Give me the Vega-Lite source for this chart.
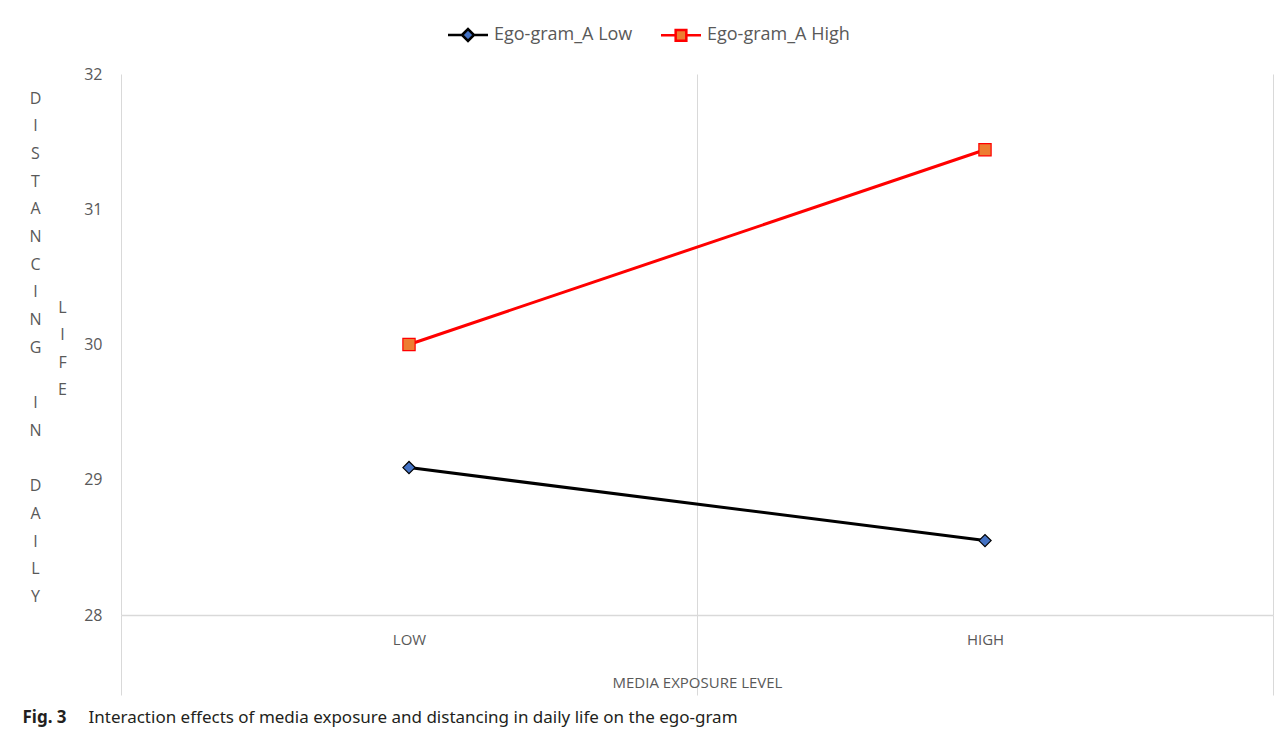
{
  "$schema": "https://vega.github.io/schema/vega-lite/v6.json",
  "autosize": "none",
  "padding": {"left": 121, "top": 74, "right": 9, "bottom": 121},
  "width": 1152,
  "height": 541,
  "background": "white",
  "config": {
    "view": {"stroke": null},
    "font": "Open Sans",
    "axis": {"labelFont": "Open Sans", "titleFont": "Open Sans"}
  },
  "data": {
    "values": [
      {"exposure": "LOW", "group": "Ego-gram_A Low", "value": 29.09},
      {"exposure": "HIGH", "group": "Ego-gram_A Low", "value": 28.55},
      {"exposure": "LOW", "group": "Ego-gram_A High", "value": 30.0},
      {"exposure": "HIGH", "group": "Ego-gram_A High", "value": 31.44}
    ]
  },
  "layer": [
    {
      "mark": {"type": "line", "strokeWidth": 3},
      "encoding": {
        "x": {
          "field": "exposure",
          "type": "ordinal",
          "sort": ["LOW", "HIGH"],
          "scale": {"paddingInner": 0, "paddingOuter": 0},
          "axis": {
            "title": "MEDIA EXPOSURE LEVEL",
            "titleFontSize": 15,
            "titleFontWeight": "normal",
            "titleColor": "#595959",
            "titleY": 67,
            "titleBaseline": "middle",
            "labelAngle": 0,
            "labelFontSize": 15,
            "labelColor": "#595959",
            "labelPadding": -63,
            "tickBand": "extent",
            "ticks": true,
            "tickSize": 80,
            "tickColor": "#d9d9d9",
            "tickWidth": 1,
            "grid": true,
            "gridColor": "#d9d9d9",
            "gridWidth": 1,
            "domain": true,
            "domainColor": "#d9d9d9",
            "domainWidth": 1.5
          }
        },
        "y": {
          "field": "value",
          "type": "quantitative",
          "scale": {"domain": [28, 32], "zero": false, "nice": false},
          "axis": {
            "orient": "left",
            "title": ["D", "I", "S", "T", "A", "N", "C", "I", "N", "G", "\u200b", "I", "N", "\u200b", "D", "A", "I", "L", "Y"],
            "titleAngle": 0,
            "titleAlign": "center",
            "titleBaseline": "top",
            "titleX": -86,
            "titleY": 16,
            "titleFontSize": 16,
            "titleFontWeight": "normal",
            "titleColor": "#595959",
            "titleLineHeight": 27.7,
            "values": [28, 29, 30, 31, 32],
            "labelFontSize": 16,
            "labelColor": "#595959",
            "labelPadding": 19,
            "ticks": false,
            "domain": false,
            "grid": false
          }
        },
        "stroke": {
          "field": "group",
          "type": "nominal",
          "scale": {"domain": ["Ego-gram_A Low", "Ego-gram_A High"], "range": ["#000000", "#ff0000"]},
          "legend": {
            "title": null,
            "orient": "none",
            "direction": "horizontal",
            "legendX": 332,
            "legendY": -54,
            "labelFont": "Open Sans",
            "labelFontSize": 18,
            "labelColor": "#595959",
            "labelOffset": 11,
            "columnPadding": 23,
            "symbolSize": 711,
            "symbolStrokeWidth": 2.5,
            "encode": {
              "symbols": {
                "update": {
                  "shape": {"signal": "datum.value === 'Ego-gram_A Low' ? 'M-1.5,0H-0.45M0.45,0H1.5M-0.45,0L0,-0.45L0.45,0L0,0.45Z' : 'M-1.5,0H-0.4M0.4,0H1.5M-0.4,-0.4H0.4V0.4H-0.4Z'"},
                  "fill": {"signal": "datum.value === 'Ego-gram_A Low' ? '#4472c4' : '#ed7d31'"},
                  "opacity": {"value": 1}
                }
              }
            }
          }
        }
      }
    },
    {
      "mark": {"type": "point", "filled": true, "opacity": 1, "size": 150, "strokeWidth": 1.2},
      "encoding": {
        "x": {"field": "exposure", "type": "ordinal", "sort": ["LOW", "HIGH"], "axis": null},
        "y": {
          "field": "value",
          "type": "quantitative",
          "axis": {
            "orient": "right",
            "title": "Fig. 3",
            "titleFont": "Noto Sans",
            "titleFontSize": 17,
            "titleFontWeight": "bold",
            "titleColor": "#231f20",
            "titleAngle": 0,
            "titleAlign": "left",
            "titleBaseline": "middle",
            "titleX": -1251,
            "titleY": 643,
            "labels": false,
            "ticks": false,
            "domain": false,
            "grid": false
          }
        },
        "shape": {"condition": {"test": "datum.group === 'Ego-gram_A Low'", "value": "diamond"}, "value": "square"},
        "fill": {"condition": {"test": "datum.group === 'Ego-gram_A Low'", "value": "#4472c4"}, "value": "#ed7d31"},
        "stroke": {"condition": {"test": "datum.group === 'Ego-gram_A Low'", "value": "#000000"}, "value": "#ff0000"}
      }
    },
    {
      "mark": {"type": "point", "opacity": 0},
      "encoding": {
        "x": {
          "field": "exposure",
          "type": "ordinal",
          "sort": ["LOW", "HIGH"],
          "axis": {
            "orient": "top",
            "title": "Interaction effects of media exposure and distancing in daily life on the ego-gram",
            "titleFont": "Noto Sans",
            "titleFontSize": 17,
            "titleFontWeight": "normal",
            "titleColor": "#231f20",
            "titleAlign": "left",
            "titleAnchor": "start",
            "titleBaseline": "middle",
            "titleX": -33,
            "titleY": 643,
            "labels": false,
            "ticks": false,
            "domain": false,
            "grid": false
          }
        },
        "y": {
          "field": "value",
          "type": "quantitative",
          "axis": {
            "orient": "right",
            "title": ["L", "I", "F", "E"],
            "titleAngle": 0,
            "titleAlign": "center",
            "titleBaseline": "top",
            "titleX": -1211,
            "titleY": 225,
            "titleFontSize": 16,
            "titleFontWeight": "normal",
            "titleColor": "#595959",
            "titleLineHeight": 27.5,
            "labels": false,
            "ticks": false,
            "domain": false,
            "grid": false
          }
        }
      }
    }
  ],
  "resolve": {"axis": {"y": "independent", "x": "independent"}}
}
